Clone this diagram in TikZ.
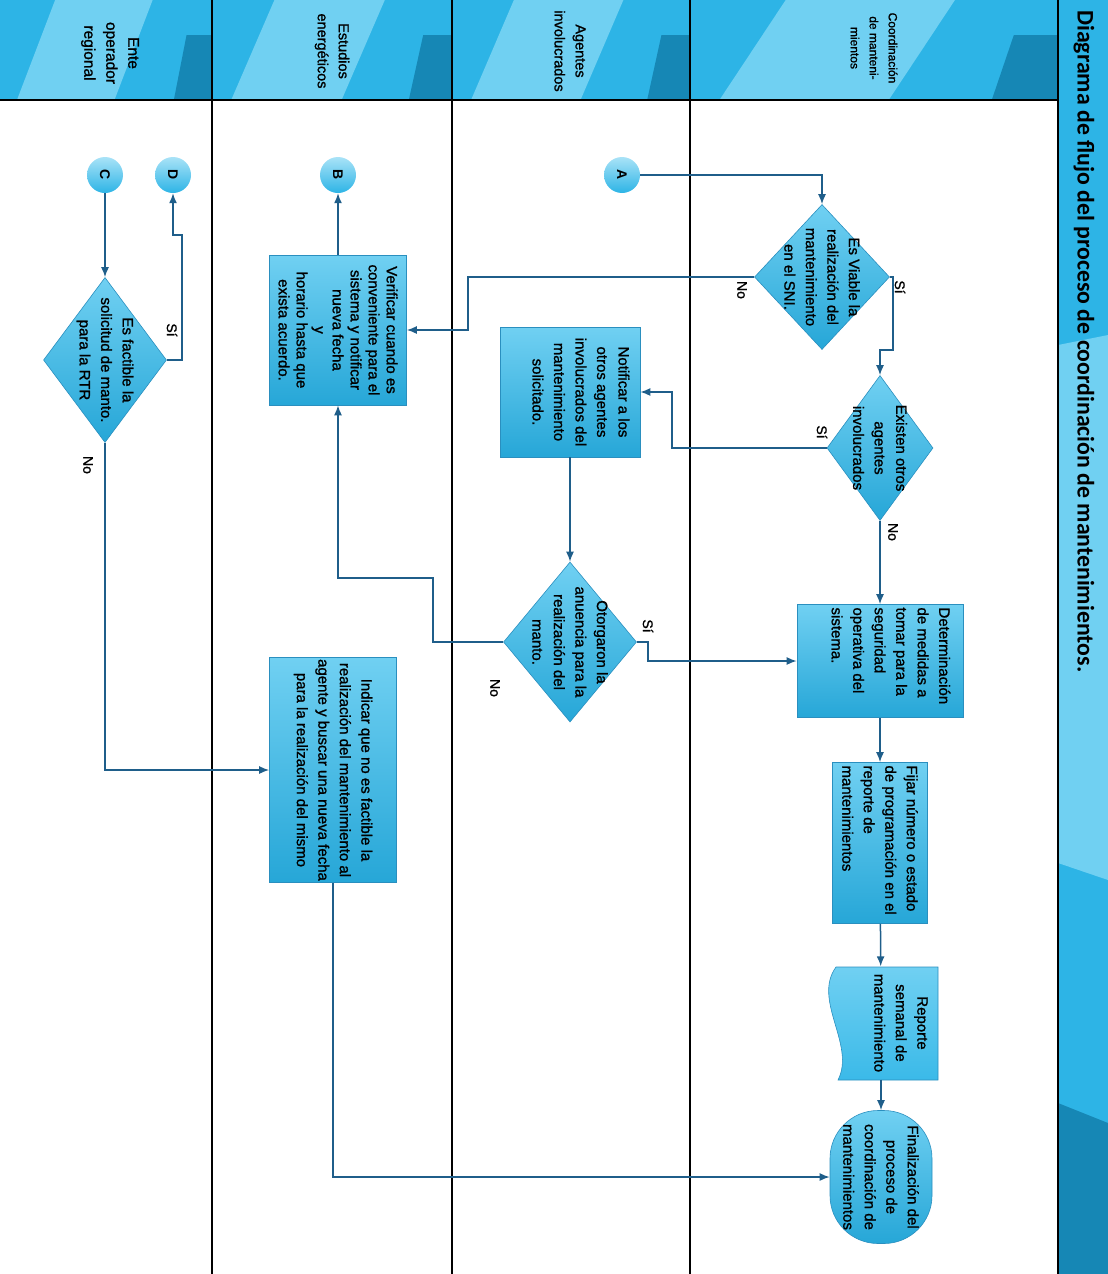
\documentclass[tikz,border=0pt]{standalone}
\usepackage{fontspec}
\setmainfont{Liberation Sans}
\newfontfamily\heavyfont{Liberation Sans}[FakeBold=1.2]
\newfontfamily\titlefont{Carlito}
\usetikzlibrary{shapes.geometric,arrows.meta}

\definecolor{cyM}{HTML}{2DB4E6}
\definecolor{cyL}{HTML}{70D0F2}
\definecolor{cyD}{HTML}{1687B5}
\definecolor{lineblue}{HTML}{1F5E8A}
\definecolor{rimblue}{HTML}{2A8FBF}

\newcommand\flowfont{\heavyfont\fontsize{15}{21.5}\selectfont}
% extra depth pushes the text towards the right side of a turned box
\newcommand\lift[1]{\rule[-#1]{0pt}{0pt}}

\tikzset{
  flow/.style={draw=lineblue, line width=1.5pt, -{Latex[length=10pt,width=8pt]}},
  procbox/.style={rectangle, rotate=-90, draw=rimblue, line width=0.6pt,
    top color=cyL, middle color=cyM, bottom color=cyM!70!cyD,
    inner sep=3pt, align=flush center, font=\flowfont},
  decision/.style={diamond, draw=rimblue, line width=0.6pt,
    top color=cyL, middle color=cyM, bottom color=cyM!70!cyD, inner sep=0pt},
  dtext/.style={rotate=-90, align=flush center, font=\flowfont, inner sep=0pt},
  terminal/.style={procbox, rounded corners=48pt},
  conn/.style={circle, minimum size=36pt, inner sep=0pt, rotate=-90,
    top color=cyL!60!white, bottom color=cyM, font=\bfseries\fontsize{14}{14}\selectfont},
  lbl/.style={rotate=-90, inner sep=1pt, font=\heavyfont\fontsize{14}{14}\selectfont},
  lanehead/.style={rotate=-90, align=flush center, font=\heavyfont\fontsize{14.5}{21}\selectfont}
}

\begin{document}
\begin{tikzpicture}[x=1pt,y=-1pt]
  \useasboundingbox (0,0) rectangle (1108,1274);
  % lane headers
  \foreach \xa/\xb in {0/212,212/452,452/690,690/1058}{
    \fill[cyM] (\xa,0) rectangle (\xb,100);
    \fill[cyL] ({\xa+0.08*(\xb-\xa)},100) -- ({\xa+0.26*(\xb-\xa)},0) -- ({\xa+0.72*(\xb-\xa)},0) -- ({\xa+0.54*(\xb-\xa)},100) -- cycle;
    \fill[cyD] ({\xa+0.82*(\xb-\xa)},100) -- ({\xa+0.88*(\xb-\xa)},35) -- (\xb,35) -- (\xb,100) -- cycle;
  }
  % title strip
  \fill[cyM] (1058,0) rectangle (1108,1274);
  \fill[cyL] (1058,345) -- (1108,335) -- (1108,880) -- (1058,863) -- cycle;
  \fill[cyD] (1058,1103) -- (1108,1123) -- (1108,1274) -- (1058,1274) -- cycle;
  \foreach \xl in {212,452,690,1058}
    \draw[line width=1.2pt] (\xl,0) -- (\xl,1274);
  \draw[line width=1.2pt] (0,100) -- (1058,100);

  \node[rotate=-90, anchor=west, inner sep=0pt, font={\titlefont\bfseries\fontsize{23.8}{26}\selectfont}] (title) at (1084,10) {Diagrama de flujo del proceso de coordinación de mantenimientos.};

  \node[lanehead, font=\heavyfont\fontsize{15.5}{22}\selectfont] (h1) at (110,53) {Ente\\operador\\regional};
  \node[lanehead] (h2) at (332,51) {Estudios\\energéticos};
  \node[lanehead] (h3) at (570,51) {Agentes\\involucrados};
  \node[lanehead, font=\heavyfont\fontsize{12}{19}\selectfont] (h4) at (874,48) {Coordinación\\de manteni-\\mientos};

  % connectors A-D
  \node[conn] (cA) at (622,175) {A};
  \node[conn] (cB) at (338,175) {B};
  \node[conn] (cC) at (105,175) {C};
  \node[conn] (cD) at (173,175) {D};

  % decisions
  \node[decision, minimum width=135pt, minimum height=145pt] (d1) at (822,277) {};
  \node[dtext] (t1) at (d1) {Es Viable la\\realización del\\mantenimiento\\en el SNI.};
  \node[decision, minimum width=106pt, minimum height=145pt] (d2) at (880,448) {};
  \node[dtext] (t2) at (d2) {Existen otros\\agentes\\involucrados};
  \node[decision, minimum width=133pt, minimum height=160pt] (d3) at (570,642) {};
  \node[dtext] (t3) at (d3) {Otorgaron la\\anuencia para la\\realización del\\manto.};
  \node[decision, minimum width=123pt, minimum height=165pt] (d4) at (105,360) {};
  \node[dtext] (t4) at (d4) {Es factible la\\solicitud de manto.\\para la RTR};

  % process boxes
  \node[procbox, minimum width=150pt, minimum height=137pt, text width=144pt,
    font=\heavyfont\fontsize{15}{18}\selectfont] (ver) at (338,330) {Verificar cuando es\\conveniente para el\\sistema y notificar\\nueva fecha\\y\\horario hasta que\\exista acuerdo.};
  \node[procbox, minimum width=130pt, minimum height=140pt, text width=124pt] (noti) at (570,392) {Notificar a los\\otros agentes\\involucrados del\\mantenimiento\\solicitado.\lift{22pt}};
  \node[procbox, minimum width=113pt, minimum height=166pt, text width=107pt, align=flush left] (det) at (880,661) {Determinación\\de medidas a\\tomar para la\\seguridad\\operativa del\\sistema.\lift{22pt}};
  \node[procbox, minimum width=161pt, minimum height=95pt, text width=155pt, align=flush left] (fij) at (880,843) {Fijar número o estado\\de programación en el\\reporte de\\mantenimientos};
  \node[procbox, minimum width=225pt, minimum height=127pt, text width=224pt, inner xsep=0.5pt] (ind) at (333,770) {Indicar que no es factible la\\realización del mantenimiento al\\agente y buscar una nueva fecha\\para la realización del mismo};

  % document shape
  \shade[top color=cyL, bottom color=cyM!80!cyL, draw=rimblue, line width=0.6pt]
    (836,967) -- (938,967) -- (938,1080) -- (838,1080) .. controls (856,1045) and (812,1000) .. (836,967) -- cycle;
  \node[dtext, minimum width=113pt, minimum height=113pt] (rep) at (881,1023) {Reporte\\semanal de\\mantenimiento\lift{40pt}};

  \node[terminal, minimum width=133pt, minimum height=102pt, text width=110pt] (fin) at (881,1177) {Finalización del\\proceso de\\coordinación de\\mantenimientos};

  % flow lines
  \draw[flow] (cA) -| (d1);
  \draw[flow] (d1.east) -- (893,277) |- (880,350) -- (d2.north);
  \draw[flow] (d1.west) -- (468,277) |- (ver);
  \draw[flow] (d2.west) -- (672,448) |- (noti);
  \draw[flow] (d2) -- (det);
  \draw[flow] (noti) -- (d3);
  \draw[flow] (d3.east) -- (648,642) |- (det);
  \draw[flow] (d3.west) -- (433,642) |- (338,578) -- (ver);
  \draw[flow] (ver) -- (cB);
  \draw[flow] (det) -- (fij);
  \draw[flow] (fij) -- (rep);
  \draw[flow] (rep) -- (fin);
  \draw[flow] (cC) -- (d4);
  \draw[flow] (d4.east) -- (182,360) |- (173,235) -- (cD);
  \draw[flow] (d4) |- (ind);
  \draw[flow] (ind) |- (fin);

  % answers
  \node[lbl] (s1) at (900,287) {Sí};
  \node[lbl] (n1) at (742,290) {No};
  \node[lbl] (s2) at (822,432) {Sí};
  \node[lbl] (n2) at (893,532) {No};
  \node[lbl] (s3) at (648,626) {Sí};
  \node[lbl] (n3) at (495,688) {No};
  \node[lbl] (s4) at (172,330) {Sí};
  \node[lbl] (n4) at (88,465) {No};
\end{tikzpicture}
\end{document}
